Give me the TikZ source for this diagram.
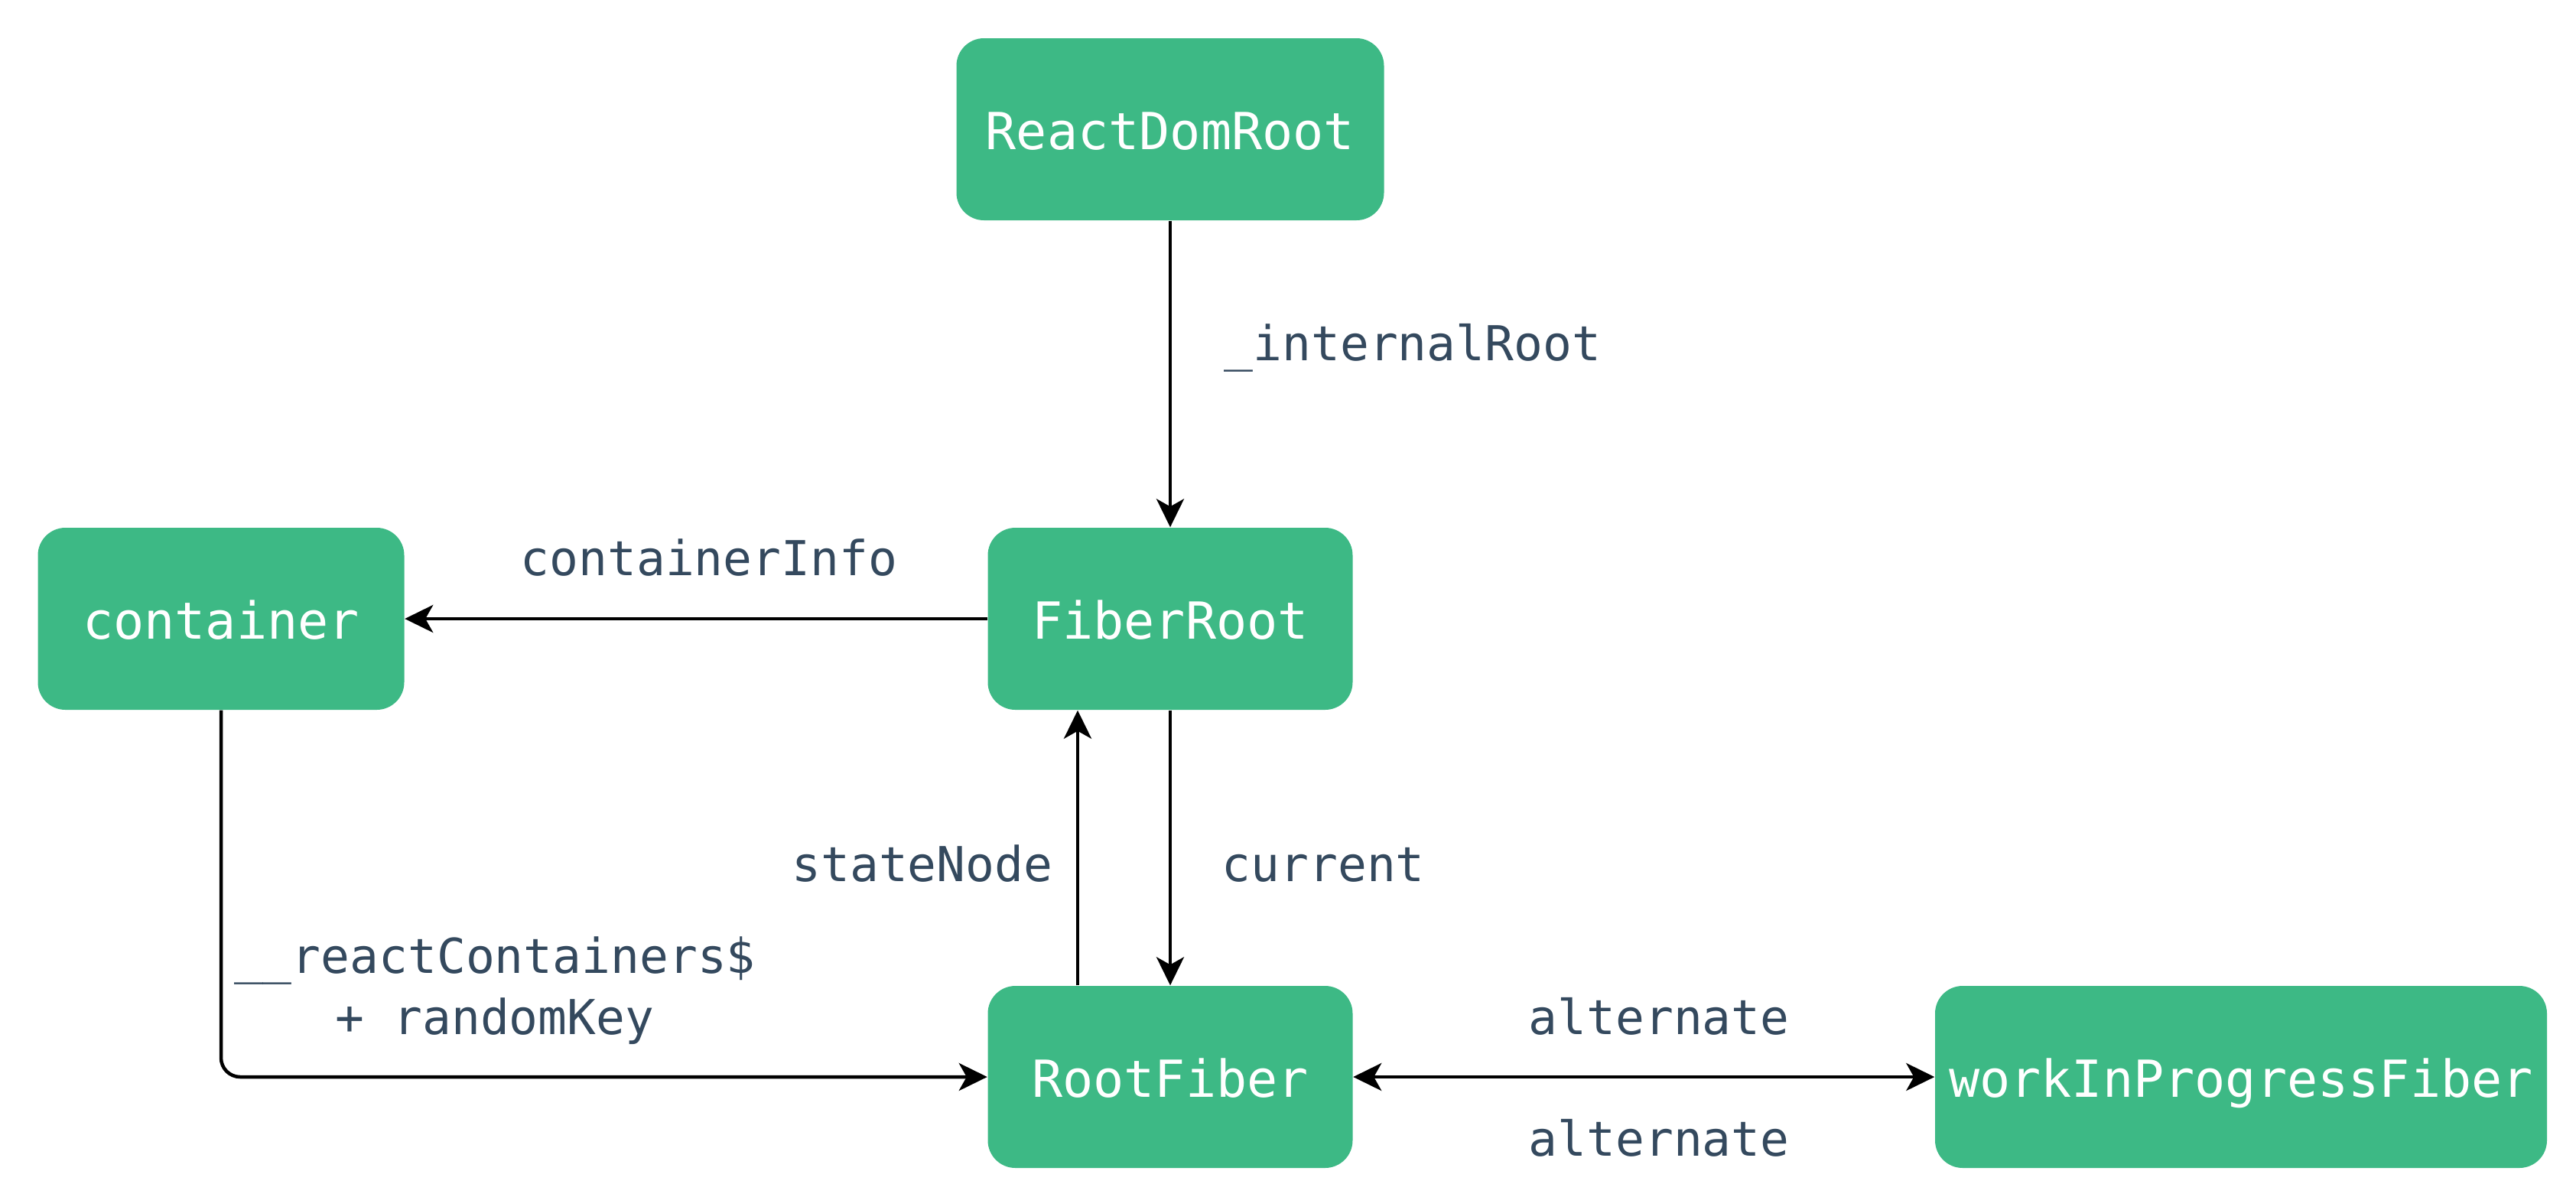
\documentclass[tikz,border=0pt]{standalone}
\usepackage{fontspec}
\usetikzlibrary{arrows.meta}
\newfontfamily\codefont{DejaVu Sans Mono}
\definecolor{fibergreen}{HTML}{3DB985}
\definecolor{labelslate}{HTML}{34495E}

\begin{document}
\begin{tikzpicture}[
  box/.style={rectangle, rounded corners=0.36cm, fill=fibergreen, text=white,
    minimum height=2.38cm, inner sep=0pt, text height=0.52cm, text depth=0pt,
    font=\codefont\fontsize{19}{23}\selectfont},
  lbl/.style={text=labelslate, inner sep=0pt,
    font=\codefont\fontsize{17.9}{21.6}\selectfont},
  link/.style={line width=0.045cm, -{Stealth[length=0.37cm, width=0.36cm, inset=0.1cm]}},
  twoway/.style={line width=0.045cm,
    {Stealth[length=0.37cm, width=0.36cm, inset=0.1cm]}-{Stealth[length=0.37cm, width=0.36cm, inset=0.1cm]}}]
  \useasboundingbox (0,0) rectangle (33.68,-15.64);

  % boxes
  \node[box, minimum width=5.59cm] (rdr) at (15.30, -1.69) {ReactDomRoot};
  \node[box, minimum width=4.77cm] (fr)  at (15.30, -8.09) {FiberRoot};
  \node[box, minimum width=4.79cm] (ctr) at (2.89,  -8.09) {container};
  \node[box, minimum width=4.77cm] (rf)  at (15.30, -14.08) {RootFiber};
  \node[box, minimum width=8.00cm] (wip) at (29.30, -14.08) {workInProgressFiber};

  % links
  \draw[link] (rdr) -- (fr);
  \draw[link] (fr) -- (ctr);
  \draw[link] (fr) -- (rf);
  \draw[link] ([xshift=-1.21cm]rf.north) -- ([xshift=-1.21cm]fr.south);
  \draw[link, rounded corners=0.25cm] (ctr) |- (rf);
  \draw[twoway] (rf) -- (wip);

  % labels
  \node[lbl, anchor=base west] (l1) at (16.00, -4.71) {\_internalRoot};
  \node[lbl, anchor=base west] (l2) at (6.80,  -7.52) {containerInfo};
  \node[lbl, anchor=base east] (l3) at (13.77, -11.52) {stateNode};
  \node[lbl, anchor=base west] (l4) at (15.97, -11.52) {current};
  \node[lbl, anchor=base, align=center] (l5) at (6.47, -13.52)
    {\_\_reactContainers\$\\[1pt]+ randomKey};
  \node[lbl, anchor=base west] (l6) at (19.98, -13.52) {alternate};
  \node[lbl, anchor=base west] (l7) at (19.98, -15.11) {alternate};
\end{tikzpicture}
\end{document}
